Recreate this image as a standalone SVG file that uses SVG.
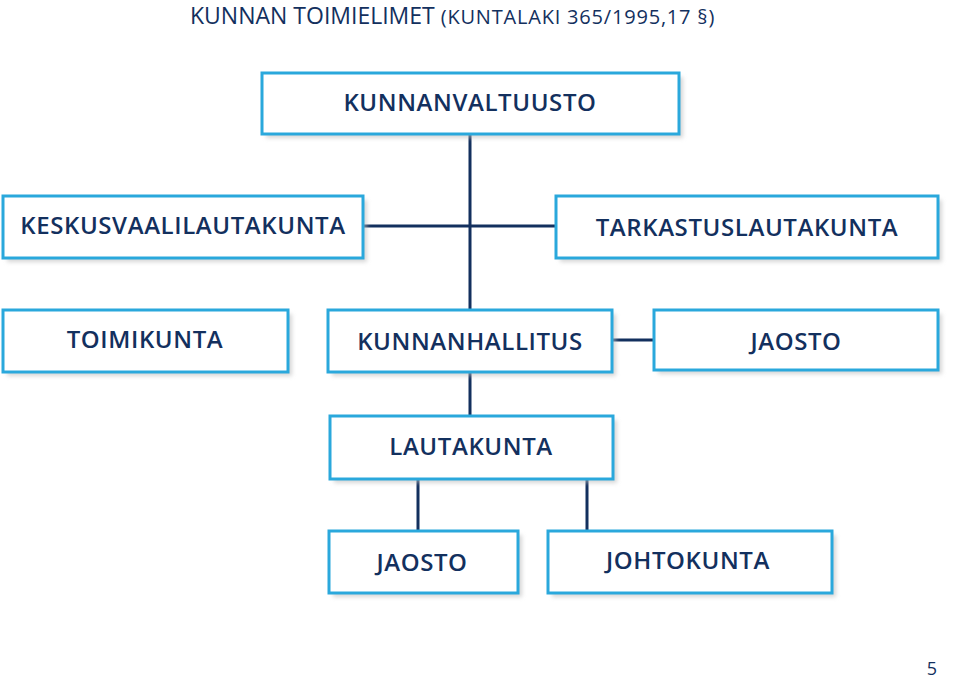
<svg xmlns="http://www.w3.org/2000/svg" width="959" height="680" viewBox="0 0 959 680">
<style>
.box{fill:#fff;stroke:#2aa8dc;stroke-width:3}
.sh{fill:#bbb;opacity:0.6}
.t{font-family:"Open Sans","Liberation Sans",sans-serif;font-weight:600;font-size:24px;fill:#13305e;text-anchor:middle;letter-spacing:0.6px}
.c{stroke:#13305e;stroke-width:3;fill:none}
</style>
<defs><filter id="b"><feGaussianBlur stdDeviation="2"/></filter></defs>
<rect width="959" height="680" fill="#fff"/>
<text x="190" y="24" font-family="'Open Sans','Liberation Sans',sans-serif" font-size="23" fill="#13305e">KUNNAN TOIMIELIMET <tspan font-size="20" letter-spacing="0.8">(KUNTALAKI 365/1995,17 §)</tspan></text>
<g id="connectors">
<path class="c" d="M470 134V310M363 226H556M612 340H654M470 372V416M418 479V531M587 479V531"/>
</g>
<g id="kunnanvaltuusto"><rect class="sh" x="266" y="77" width="417" height="61" filter="url(#b)"/><rect class="box" x="262" y="73" width="417" height="61"/><text class="t" x="470" y="111">KUNNANVALTUUSTO</text></g>
<g id="keskusvaalilautakunta"><rect class="sh" x="7" y="200" width="360" height="62" filter="url(#b)"/><rect class="box" x="3" y="196" width="360" height="62"/><text class="t" x="183" y="234">KESKUSVAALILAUTAKUNTA</text></g>
<g id="tarkastuslautakunta"><rect class="sh" x="560" y="200" width="382" height="62" filter="url(#b)"/><rect class="box" x="556" y="196" width="382" height="62"/><text class="t" x="747" y="236">TARKASTUSLAUTAKUNTA</text></g>
<g id="toimikunta"><rect class="sh" x="7" y="314" width="285" height="62" filter="url(#b)"/><rect class="box" x="3" y="310" width="285" height="62"/><text class="t" x="145" y="348">TOIMIKUNTA</text></g>
<g id="kunnanhallitus"><rect class="sh" x="332" y="314" width="284" height="62" filter="url(#b)"/><rect class="box" x="328" y="310" width="284" height="62"/><text class="t" x="470" y="350">KUNNANHALLITUS</text></g>
<g id="jaosto1"><rect class="sh" x="658" y="314" width="284" height="60" filter="url(#b)"/><rect class="box" x="654" y="310" width="284" height="60"/><text class="t" x="796" y="350">JAOSTO</text></g>
<g id="lautakunta"><rect class="sh" x="334" y="420" width="283" height="63" filter="url(#b)"/><rect class="box" x="330" y="416" width="283" height="63"/><text class="t" x="471" y="455">LAUTAKUNTA</text></g>
<g id="jaosto2"><rect class="sh" x="333" y="535" width="189" height="62" filter="url(#b)"/><rect class="box" x="329" y="531" width="189" height="62"/><text class="t" x="422" y="571">JAOSTO</text></g>
<g id="johtokunta"><rect class="sh" x="552" y="535" width="284" height="62" filter="url(#b)"/><rect class="box" x="548" y="531" width="284" height="62"/><text class="t" x="688" y="569">JOHTOKUNTA</text></g>
<text x="932" y="675" font-family="'Open Sans','Liberation Sans',sans-serif" font-size="18" fill="#13305e" text-anchor="middle">5</text>
</svg>
